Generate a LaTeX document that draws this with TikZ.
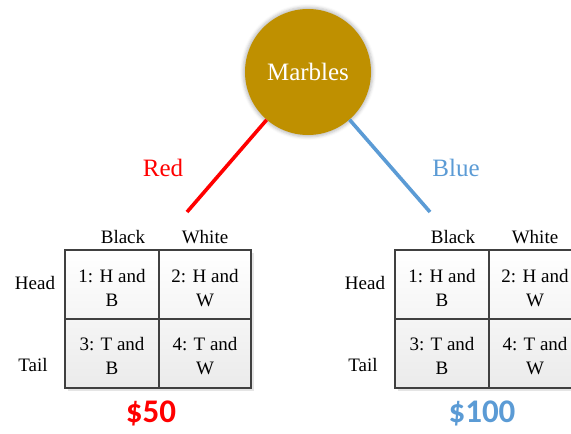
\documentclass[tikz,border=0pt]{standalone}
\usepackage{fontspec}
\setmainfont{Liberation Serif}
\newfontfamily\pricefont{Carlito}
\usetikzlibrary{shadows.blur}
\definecolor{gold}{HTML}{BF9000}
\definecolor{redline}{HTML}{FF0000}
\definecolor{blueline}{HTML}{5B9BD5}
\definecolor{gridline}{HTML}{404040}
\begin{document}
\begin{tikzpicture}[x=1pt,y=-1pt,
  lbl/.style={font=\fontsize{19}{21}\selectfont, inner sep=0pt},
  celltxt/.style={font=\fontsize{19}{24}\selectfont, align=center, inner sep=0pt},
  branch/.style={line width=3.6pt},
  price/.style={font=\pricefont\bfseries\fontsize{33}{34}\selectfont, inner sep=0pt},
  cellbox/.style={draw=gridline, line width=1.8pt},
]
\useasboundingbox (0,0) rectangle (571,434);

% root circle
\node[circle, fill=gold, minimum size=126pt, inner sep=0pt,
      blur shadow={shadow xshift=0pt, shadow yshift=0pt, shadow blur radius=3pt, shadow opacity=25, shadow scale=1.03},
      text=white, font=\fontsize{25}{27}\selectfont] (m) at (308,72) {Marbles};

% branches
\coordinate (redend) at (187,212);
\coordinate (blueend) at (430,212);
\draw[branch, redline] (m) -- (redend);
\draw[branch, blueline] (m) -- (blueend);
\node[lbl, text=redline, font=\fontsize{25}{27}\selectfont] (redlbl) at (163,168) {Red};
\node[lbl, text=blueline, font=\fontsize{25}{27}\selectfont] (bluelbl) at (456,168) {Blue};

% outcome grid: #1 left x, #2 name prefix
\newcommand\outcomegrid[2]{%
  \fill[gray!40, opacity=0.5] (#1+3,253) rectangle (#1+189,391);
  \shade[top color=white, bottom color=gray!16] (#1,250) rectangle (#1+186,388);
  \draw[cellbox] (#1,250) rectangle (#1+94,319);
  \draw[cellbox] (#1+94,250) rectangle (#1+186,319);
  \draw[cellbox] (#1,319) rectangle (#1+94,388);
  \draw[cellbox] (#1+94,319) rectangle (#1+186,388);
  \node[celltxt] (#2c1) at (#1+47,288) {1: H and\\B};
  \node[celltxt] (#2c2) at (#1+140,288) {2: H and\\W};
  \node[celltxt] (#2c3) at (#1+47,356) {3: T and\\B};
  \node[celltxt] (#2c4) at (#1+140,356) {4: T and\\W};
  \node[lbl] (#2black) at (#1+58,237) {Black};
  \node[lbl] (#2white) at (#1+140,237) {White};
  \node[lbl] (#2head) at (#1-30,283) {Head};
  \node[lbl] (#2tail) at (#1-32,365) {Tail};
}
\outcomegrid{65}{L}
\outcomegrid{395}{R}

\node[price, text=redline] (p50) at (151,413) {\$50};
\node[price, text=blueline] (p100) at (482,413) {\$100};
\end{tikzpicture}
\end{document}
